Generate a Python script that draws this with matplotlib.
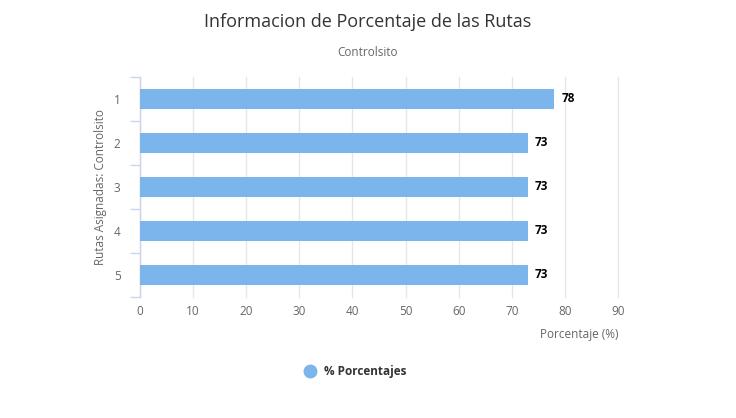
import matplotlib.pyplot as plt
from matplotlib.lines import Line2D

# data
rutas = ['1', '2', '3', '4', '5']
porcentajes = [78, 73, 73, 73, 73]
x_ticks = [0, 10, 20, 30, 40, 50, 60, 70, 80, 90]

plt.rcParams['font.family'] = ['Open Sans', 'DejaVu Sans']

bar_color = '#7cb5ec'
text_color = '#333333'
label_color = '#666666'
axis_color = '#ccd6eb'
grid_color = '#e6e6e6'

fig = plt.figure(figsize=(7.36, 4.18), dpi=100)
ax = fig.add_axes([140 / 736, 1 - 297 / 418, 478 / 736, 220 / 418])

pos = list(range(len(rutas)))
ax.barh(pos, porcentajes, height=0.45, color=bar_color, zorder=3)

for p, v in zip(pos, porcentajes):
    ax.annotate(
        f'{v}', (v, p), xytext=(5, 0), textcoords='offset points',
        ha='left', va='center', fontsize=8.5, fontweight='bold',
        color='black', zorder=4
    )

ax.set_xlim(0, 90)
ax.set_ylim(len(rutas) - 0.5, -0.5)
ax.set_xticks(x_ticks)
ax.set_yticks(pos)
ax.set_yticklabels(rutas)
ax.set_yticks([p - 0.5 for p in pos] + [len(rutas) - 0.5], minor=True)

ax.grid(axis='x', color=grid_color, linewidth=1, zorder=0)
for line in ax.get_xgridlines():
    line.set_clip_on(False)

for side in ['top', 'right', 'bottom']:
    ax.spines[side].set_visible(False)
ax.spines['left'].set_color(axis_color)
ax.spines['left'].set_linewidth(1)

ax.tick_params(axis='y', which='major', length=0, pad=14,
               labelsize=8.5, labelcolor=label_color)
ax.tick_params(axis='y', which='minor', length=7, width=1,
               color=axis_color)
ax.tick_params(axis='x', length=0, pad=6, labelsize=8.5,
               labelcolor=label_color)

ax.set_ylabel('Rutas Asignadas: Controlsito', fontsize=8.5,
              color=label_color)
ax.yaxis.set_label_coords(-0.068, 0.5)
ax.set_xlabel('Porcentaje (%)', fontsize=8.5, color=label_color)
ax.xaxis.set_label_coords(0.918, -0.14)

fig.text(0.5, 1 - 22 / 418, 'Informacion de Porcentaje de las Rutas',
         ha='center', va='center', fontsize=13, color=text_color)
fig.text(0.5, 1 - 53 / 418, 'Controlsito', ha='center', va='center',
         fontsize=8.5, color=label_color)

handle = Line2D([], [], marker='o', linestyle='none', markersize=9,
                color=bar_color)
fig.legend(
    [handle], ['% Porcentajes'], loc='center',
    bbox_to_anchor=(352 / 736, 1 - 372 / 418), frameon=False,
    prop={'weight': 'bold', 'size': 8.5}, handletextpad=0.2,
    labelcolor=text_color
)

fig.savefig('out.png', dpi=100)
plt.close()
